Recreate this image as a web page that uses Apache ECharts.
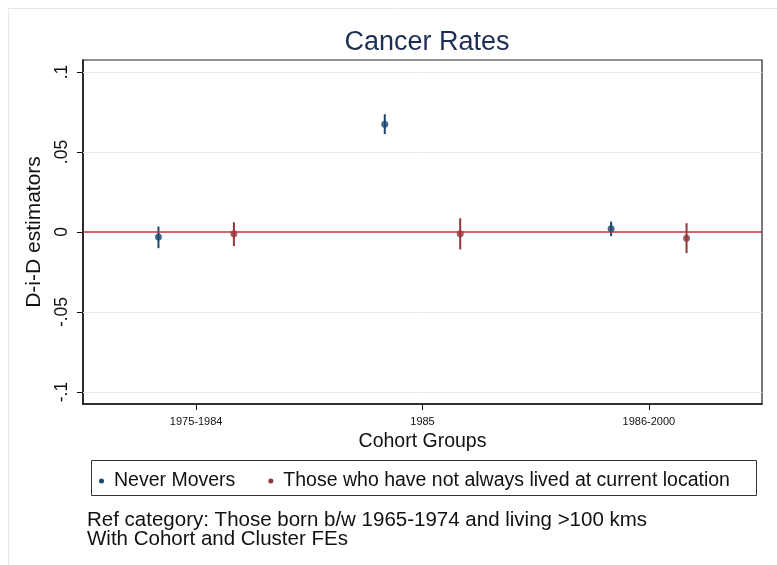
<!DOCTYPE html>
<html>
<head>
<meta charset="utf-8">
<script src="https://cdn.jsdelivr.net/npm/echarts@6/dist/echarts.min.js"></script>
<style>html,body{margin:0;padding:0;background:#fff}#c{width:777px;height:565px}</style>
</head>
<body>
<div id="c"></div>
<script>
// ---- data ----
const cohorts = ['1975-1984', '1985', '1986-2000'];
const neverEst = [-0.0032, 0.0674, 0.0020];
const neverLo  = [-0.0101, 0.0612, -0.0026];
const neverHi  = [0.0034, 0.0736, 0.0065];
const moverEst = [-0.0011, -0.0011, -0.0039];
const moverLo  = [-0.0088, -0.0109, -0.0132];
const moverHi  = [0.0061, 0.0086, 0.0055];
const yTicks = [-0.1, -0.05, 0, 0.05, 0.1];
const yTickLabels = ['-.1', '-.05', '0', '.05', '.1'];
const seriesNames = ['Never Movers', 'Those who have not always lived at current location'];
const notes = ['Ref category: Those born b/w 1965-1974 and living >100 kms', 'With Cohort and Cluster FEs'];

// ---- layout / style ----
const FONT = '"Liberation Sans", Arial, Helvetica, sans-serif';
const BLUE = '#1a476f', RED = '#90353b', ZERO = '#c0303f';
const OFF = 1 / 6;
const catPos = cohorts.map((c, i) => i + 1);

function pts(est, off) { return est.map((v, i) => [catPos[i] + off, v]); }
function bars(lo, hi, off) { return lo.map((v, i) => [catPos[i] + off, v, hi[i]]); }

function errRender(color) {
  return function (params, api) {
    const p1 = api.coord([api.value(0), api.value(1)]);
    const p2 = api.coord([api.value(0), api.value(2)]);
    return { type: 'line', shape: { x1: p1[0], y1: p1[1], x2: p2[0], y2: p2[1] },
             style: { stroke: color, lineWidth: 2 } };
  };
}

const chart = echarts.init(document.getElementById('c'), null, { renderer: 'canvas' });
chart.setOption({
  animation: false,
  backgroundColor: '#fff',
  title: {
    text: 'Cancer Rates', left: 422, top: 24, textAlign: 'center',
    textStyle: { fontFamily: FONT, fontSize: 27, fontWeight: 'normal', color: '#1e2d52' }
  },
  grid: { left: 83, right: 15, top: 60, bottom: 161, show: true, borderColor: '#222', borderWidth: 1.2, backgroundColor: '#fff' },
  xAxis: {
    type: 'value', min: 0.5, max: 3.5,
    name: 'Cohort Groups', nameLocation: 'middle', nameGap: 25,
    nameTextStyle: { fontFamily: FONT, fontSize: 19.5, color: '#111' },
    axisLine: { show: true, onZero: false, lineStyle: { color: '#111', width: 1.5 } },
    axisTick: { show: true, length: 6, customValues: catPos, lineStyle: { color: '#111' } },
    axisLabel: { customValues: catPos, margin: 12, fontFamily: FONT, fontSize: 11, color: '#111',
                 formatter: v => cohorts[Math.round(v) - 1] || '' },
    splitLine: { show: false }
  },
  yAxis: {
    type: 'value', min: -0.1075, max: 0.1075,
    name: 'D-i-D estimators', nameLocation: 'middle', nameGap: 29, nameRotate: 90,
    nameTextStyle: { fontFamily: FONT, fontSize: 21, color: '#111' },
    axisLine: { show: true, lineStyle: { color: '#111', width: 1.5 } },
    axisTick: { show: true, length: 6, customValues: yTicks, lineStyle: { color: '#111' } },
    axisLabel: { customValues: yTicks, rotate: 90, margin: 12, fontFamily: FONT, fontSize: 17.5, color: '#111',
                 formatter: v => { const i = yTicks.findIndex(t => Math.abs(t - v) < 1e-9); return i >= 0 ? yTickLabels[i] : ''; } },
    splitLine: { show: false }
  },
  legend: {
    left: 94, top: 466, icon: 'circle', itemWidth: 5, itemHeight: 5, itemGap: 33,
    textStyle: { fontFamily: FONT, fontSize: 19.5, color: '#111', padding: [0, 0, 0, 5] },
    data: [{ name: seriesNames[0], itemStyle: { color: BLUE } }, { name: seriesNames[1], itemStyle: { color: RED } }]
  },
  graphic: [
    { type: 'rect', left: 6, top: 6, shape: { width: 800, height: 600 }, style: { fill: 'none', stroke: '#e2e9ee', lineWidth: 1 }, silent: true, z: -10 },
    { type: 'rect', left: 89, top: 458, shape: { width: 665, height: 35 }, style: { fill: 'none', stroke: '#333', lineWidth: 1 }, silent: true },
    { type: 'text', left: 87, top: 510, style: { text: notes.join('\n'), fontFamily: FONT, fontSize: 20.5, lineHeight: 18.5, fill: '#111' } }
  ],
  series: [
    {
      type: 'line', data: [], silent: true,
      markLine: {
        silent: true, symbol: 'none', label: { show: false },
        data: yTicks.filter(v => v !== 0).map(v => ({ yAxis: v, lineStyle: { color: '#e3ebf0', width: 1, type: 'solid' } }))
          .concat([{ yAxis: 0, lineStyle: { color: ZERO, width: 1.6, type: 'solid' } }])
      }
    },
    { name: seriesNames[0], type: 'custom', renderItem: errRender(BLUE), data: bars(neverLo, neverHi, -OFF), z: 3 },
    { name: seriesNames[1], type: 'custom', renderItem: errRender(RED), data: bars(moverLo, moverHi, OFF), z: 3 },
    { name: seriesNames[0], type: 'scatter', symbol: 'circle', symbolSize: 7, itemStyle: { color: BLUE }, data: pts(neverEst, -OFF), z: 4 },
    { name: seriesNames[1], type: 'scatter', symbol: 'circle', symbolSize: 7, itemStyle: { color: RED }, data: pts(moverEst, OFF), z: 4 }
  ]
});
</script>
</body>
</html>
